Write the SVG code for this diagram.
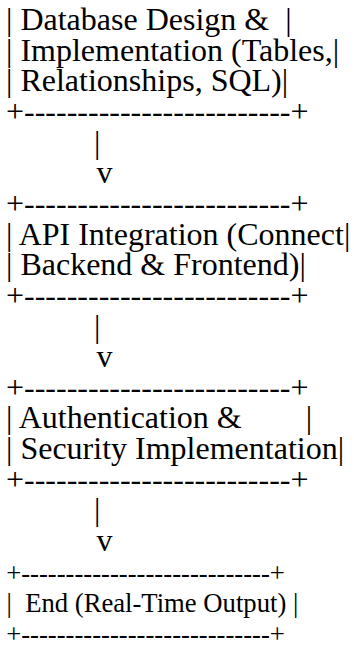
<svg xmlns="http://www.w3.org/2000/svg" width="354" height="646" viewBox="0 0 354 646">
<style>
text{font-family:"Liberation Serif","Times New Roman",serif;font-size:32px;fill:#000;white-space:pre}
.s{font-size:26.67px}
</style>
<rect width="354" height="646" fill="#fff"/>
<g id="node-database">
<text x="6" y="30">| Database Design &amp;  |</text>
<text x="6" y="60.65">| Implementation (Tables,|</text>
<text x="6" y="91.3">| Relationships, SQL)|</text>
<text x="6" y="121.95">+-------------------------+</text>
</g>
<g id="node-api">
<text x="6" y="213.9">+-------------------------+</text>
<text x="6" y="244.55">| API Integration (Connect|</text>
<text x="6" y="275.2">| Backend &amp; Frontend)|</text>
<text x="6" y="305.85">+-------------------------+</text>
</g>
<g id="node-auth">
<text x="6" y="397.8">+-------------------------+</text>
<text x="6" y="428.45">| Authentication &amp;        |</text>
<text x="6" y="459.1">| Security Implementation|</text>
<text x="6" y="489.75">+-------------------------+</text>
</g>
<g id="node-end">
<text class="s" x="6.2" y="581.7">+----------------------------+</text>
<text class="s" x="6.5" y="612.35">|  End (Real-Time Output) |</text>
<text class="s" x="6.2" y="643">+----------------------------+</text>
</g>
<g id="connectors">
<text x="6" y="152.6">           |</text>
<text x="8.5" y="183.25">           v</text>
<text x="6" y="336.5">           |</text>
<text x="8.5" y="367.15">           v</text>
<text x="6" y="520.4">           |</text>
<text x="8.5" y="551.05">           v</text>
</g>
</svg>
